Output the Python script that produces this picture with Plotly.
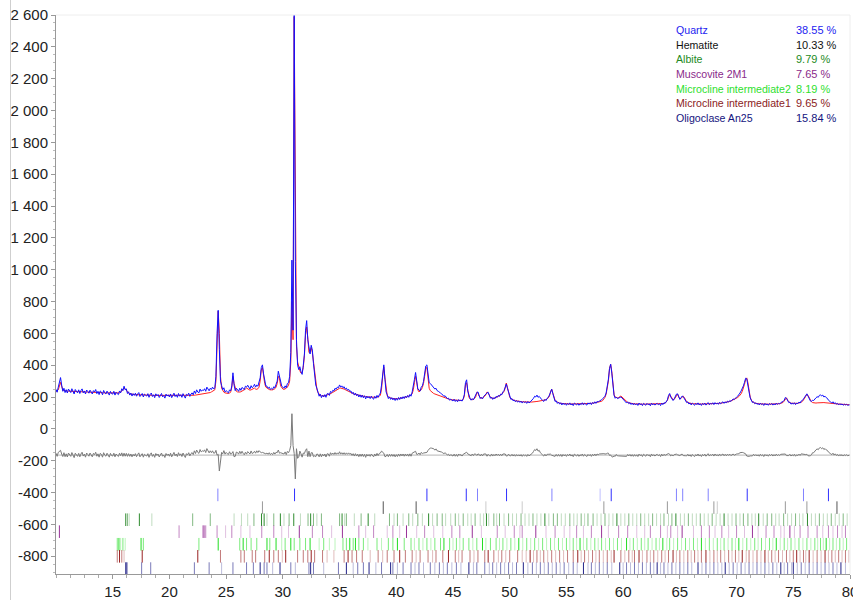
import numpy as np
import plotly.graph_objects as go

# ---------------- data ----------------
TWO_THETA_START = 10.0
TWO_THETA_STEP = 0.1
DIFF_OFFSET = -165

calc_counts = [
    236,238,245,265,292,268,245,240,238,238,
    237,237,236,236,236,235,235,235,234,234,
    234,233,233,233,232,232,232,231,231,231,
    230,230,230,229,229,229,228,228,228,227,
    227,227,226,226,226,225,225,225,224,224,
    224,224,223,223,223,224,226,230,238,248,
    256,252,240,230,224,220,218,217,216,216,
    215,215,215,214,214,214,213,213,213,213,
    212,212,212,211,211,211,210,210,210,210,
    209,209,209,209,208,208,208,208,208,207,
    207,207,207,207,207,207,207,207,207,207,
    207,207,208,208,208,208,209,209,209,210,
    210,211,211,212,213,214,215,215,216,217,
    218,219,220,221,223,225,228,232,235,238,
    245,300,600,740,600,330,255,238,230,226,
    223,222,222,224,232,260,330,285,248,236,
    232,230,231,233,236,240,245,250,256,252,
    246,243,245,248,252,256,250,248,252,262,
    300,370,385,330,285,262,255,250,247,245,
    244,245,248,252,262,285,330,318,270,255,
    250,248,250,255,262,275,300,420,800,560,
    2590,1200,520,420,385,365,350,355,385,460,
    590,640,570,480,480,510,480,420,340,285,
    248,228,216,210,207,206,206,208,210,212,
    214,217,220,224,229,234,239,243,248,252,
    255,256,255,253,250,246,242,238,234,230,
    227,224,221,218,216,214,212,210,208,206,
    205,204,203,202,201,200,199,198,198,197,
    197,197,198,199,201,204,212,250,330,390,
    320,240,210,200,196,193,191,190,189,189,
    189,189,190,191,192,193,195,197,199,201,
    203,205,208,212,220,245,290,330,295,245,
    232,236,245,260,285,330,380,385,300,255,
    240,232,226,222,219,216,213,210,207,204,
    201,198,195,193,191,189,187,185,183,182,
    181,180,179,178,178,177,177,178,180,185,
    205,275,290,230,200,188,184,183,185,190,
    200,230,225,205,195,192,193,197,205,215,
    232,225,208,198,193,191,192,194,197,200,
    204,208,212,218,225,235,255,288,260,220,
    200,190,185,182,179,177,175,174,173,172,
    171,170,170,169,169,168,168,168,168,168,
    168,169,170,171,172,173,174,175,176,177,
    178,180,183,187,193,205,232,250,225,195,
    180,172,167,164,162,160,159,158,157,157,
    156,156,156,156,156,156,156,156,156,156,
    156,156,156,156,157,157,157,158,158,159,
    159,160,160,161,162,163,164,165,166,168,
    170,173,178,186,198,218,250,300,380,405,
    360,270,215,200,196,195,197,203,206,200,
    192,184,176,170,166,163,161,160,159,158,
    157,157,156,156,156,155,155,155,155,155,
    155,155,155,155,155,155,155,155,155,155,
    155,155,155,155,156,157,159,162,168,178,
    200,216,205,190,183,185,195,212,218,200,
    188,192,200,205,196,180,170,165,162,160,
    159,158,158,157,157,157,156,156,156,156,
    156,156,156,156,156,156,157,157,157,158,
    158,158,159,159,160,160,161,162,163,164,
    165,166,168,170,172,175,178,181,185,189,
    193,197,203,210,220,235,255,280,310,320,
    290,240,200,180,170,165,162,160,159,158,
    157,157,156,156,156,156,155,155,155,155,
    155,155,155,155,155,156,156,157,158,160,
    162,166,175,190,195,180,168,163,161,160,
    159,159,159,160,161,162,164,167,172,180,
    192,205,215,210,195,180,170,165,163,162,
    162,163,164,165,166,166,166,165,164,163,
    162,161,160,160,159,158,158,157,157,156,
    156,155,155,154,154,153,153,152,152,151,
    151,
]

obs_counts = [
    248,230,262,290,322,275,236,255,228,246,
    225,250,241,228,252,233,219,247,238,226,
    245,222,240,251,226,238,219,244,235,224,
    243,228,219,240,232,247,221,236,215,238,
    232,214,241,226,219,237,228,212,235,221,
    218,236,212,230,221,215,238,226,252,240,
    268,245,251,222,233,212,225,206,221,210,
    224,205,219,228,203,216,222,200,218,211,
    206,221,198,215,225,203,214,196,220,208,
    216,197,212,222,201,209,193,218,206,214,
    200,219,196,211,224,203,214,198,222,205,
    215,198,221,206,193,217,210,224,204,219,
    226,214,238,222,245,231,226,250,236,244,
    241,252,236,262,248,239,255,247,262,250,
    258,330,600,745,500,300,272,246,258,232,
    240,231,226,245,238,270,352,275,240,255,
    248,236,255,242,260,251,247,268,262,274,
    262,250,271,258,266,280,262,275,268,290,
    320,385,402,345,298,270,268,255,262,248,
    255,248,265,258,280,300,362,330,285,268,
    262,255,270,258,285,290,330,480,1060,620,
    2600,1050,560,400,372,390,358,342,398,470,
    620,680,560,505,470,525,495,410,335,275,
    255,232,205,218,196,212,200,215,198,220,
    222,210,235,228,242,238,255,248,262,258,
    276,262,270,258,265,250,256,243,248,235,
    238,222,230,212,225,208,218,200,214,198,
    212,195,208,188,206,194,203,190,205,192,
    186,204,192,210,198,214,225,275,350,402,
    310,232,214,190,201,185,196,182,193,178,
    192,180,197,184,199,188,202,190,206,195,
    210,198,216,205,232,262,310,354,300,250,
    245,238,262,270,298,345,395,402,330,290,
    285,276,268,262,250,255,240,236,228,225,
    220,212,204,208,196,190,193,180,186,178,
    175,186,172,182,170,184,176,181,174,190,
    215,290,308,238,205,192,180,190,182,198,
    206,228,232,210,190,198,188,204,212,222,
    225,230,205,192,200,185,196,190,204,198,
    210,204,218,214,232,240,262,282,255,226,
    196,185,190,176,182,170,178,168,175,166,
    174,162,172,165,170,160,172,163,168,176,
    180,192,205,200,212,198,204,190,186,178,
    172,185,178,192,198,212,238,249,222,190,
    172,176,160,168,155,164,150,162,152,160,
    148,160,152,163,150,158,146,162,155,150,
    160,148,158,152,164,150,161,154,149,163,
    155,164,152,166,158,170,160,172,168,175,
    178,182,190,195,205,225,262,312,378,406,
    350,258,210,192,200,190,192,198,200,194,
    186,178,172,162,170,158,165,153,162,150,
    160,150,158,147,162,152,158,146,160,151,
    148,160,152,157,145,162,150,158,149,156,
    160,151,158,146,162,152,164,160,172,182,
    210,222,200,192,178,188,200,218,220,198,
    185,195,206,202,190,176,165,170,156,162,
    150,162,154,148,160,152,163,150,158,147,
    160,152,162,149,158,165,151,160,155,164,
    152,165,156,162,154,167,158,164,170,160,
    170,162,174,168,178,172,182,188,184,195,
    200,205,212,225,238,252,270,292,318,314,
    282,232,195,176,165,170,158,163,154,160,
    150,162,152,158,147,160,151,157,148,159,
    152,160,149,158,150,162,153,160,156,165,
    168,172,180,197,192,176,165,168,155,162,
    155,164,152,162,158,168,162,175,178,188,
    198,208,220,206,190,176,172,180,178,190,
    195,202,198,210,214,206,212,200,205,196,
    192,180,176,168,162,170,158,165,155,160,
    150,158,152,156,148,155,150,154,148,152,
    152,
]

# phase legend
phase_names = ["Quartz", "Hematite", "Albite", "Muscovite 2M1",
               "Microcline intermediate2", "Microcline intermediate1", "Oligoclase An25"]
phase_percent = ["38.55 %", "10.33 %", "9.79 %", "7.65 %", "8.19 %", "9.65 %", "15.84 %"]
phase_colors = ["#2424f0", "#111111", "#238a23", "#8a2a8a", "#2ee02e", "#8b1c1c", "#14147e"]
tick_colors = ["#3030ff", "#555555", "#2e8b2e", "#993399", "#22dd22", "#992222", "#222288"]
row_centers = [-415, -495, -571, -646, -725, -801, -878]

# reflection positions (2theta) per phase: strong, medium, weak
quartz_refl = [
    [31.03, 42.70, 46.17, 49.72, 58.95, 70.94, 78.10],
    [24.27, 47.16, 53.72, 64.70, 65.25, 67.50, 75.90],
    [57.97],
]
hematite_refl = [
    [38.85, 41.75, 78.85],
    [28.2, 58.3, 63.9, 68.0, 74.3, 76.2],
    [47.9, 51.1, 68.3],
]
albite_refl = [
    [16.15, 17.35, 28.12, 28.35, 29.78, 30.96, 32.45, 35.22, 37.52, 42.85, 47.95, 53.1,
     59.45, 64.65, 68.9, 71.95, 76.25],
    [16.3, 22.05, 23.6, 27.45, 29.2, 30.55, 32.22, 32.7, 33.4, 35.0, 35.6, 36.9, 39.4, 40.1,
     41.1, 41.9, 43.6, 44.05, 45.2, 45.9, 46.95, 48.6, 49.1, 49.9, 51.0, 52.05, 53.85, 54.2,
     55.3, 56.3, 56.9, 57.35, 58.4, 60.5, 61.55, 62.6, 63.6, 64.3, 65.75, 66.8, 67.85, 69.95,
     70.6, 71.0, 72.7, 73.1, 74.15, 75.2, 77.3, 78.35, 79.4],
    [16.45, 18.45, 25.7, 26.35, 26.9, 28.6, 30.1, 31.55, 33.0, 35.45, 36.3, 38.1, 39.8, 40.6,
     41.45, 42.3, 43.2, 44.35, 44.8, 45.5, 46.3, 46.6, 47.4, 47.7, 48.15, 48.85, 49.5, 50.25,
     50.6, 51.35, 51.7, 52.4, 52.75, 53.45, 54.55, 54.9, 55.65, 55.95, 56.6, 57.7, 58.05,
     58.75, 59.1, 59.8, 60.15, 60.85, 61.2, 61.9, 62.25, 62.95, 63.3, 64.0, 65.05, 65.4, 66.1,
     66.45, 67.15, 67.5, 68.2, 68.55, 69.25, 69.6, 70.3, 71.35, 71.65, 72.35, 73.45, 73.75,
     74.5, 74.85, 75.55, 75.85, 76.6, 76.95, 77.65, 78.0, 78.7, 79.05, 79.75],
]
muscovite_refl = [
    [10.3, 23.05, 31.45, 35.25, 40.9, 46.7, 52.3, 58.1, 65.2, 71.4, 74.7],
    [20.85, 22.95, 23.2, 24.2, 25.5, 28.14, 29.2, 32.6, 33.5, 36.7, 38.0, 39.7, 42.5, 44.9,
     45.6, 48.9, 50.4, 51.1, 54.0, 55.9, 57.2, 59.6, 60.4, 62.4, 63.3, 64.2, 66.9, 67.6, 68.7,
     70.0, 72.6, 73.3, 75.6, 76.3, 77.1, 78.1, 78.9, 79.6],
    [24.95, 26.3, 27.1, 29.9, 30.5, 34.3, 37.3, 39.2, 40.3, 41.8, 43.3, 44.1, 47.5, 49.6,
     50.9, 53.2, 54.8, 55.3, 56.5, 58.7, 61.2, 61.9, 63.9, 64.8, 66.2, 68.1, 69.3, 70.7, 71.9,
     73.9, 74.2, 75.1, 77.6, 78.5, 79.3],
]
microcline2_refl = [
    [15.55, 17.5, 24.3, 26.5, 28.6, 29.4, 30.7, 32.4, 35.9, 36.4, 40.1, 44.2, 47.6, 50.8,
     56.2, 60.3, 63.5, 66.9, 70.2, 73.5, 77.9],
    [15.4, 15.9, 17.7, 22.6, 26.2, 26.8, 27.2, 27.7, 28.85, 30.2, 31.0, 31.5, 32.0, 33.6,
     35.3, 35.6, 36.2, 36.7, 37.1, 38.3, 39.3, 39.7, 40.7, 41.3, 42.0, 42.7, 43.4, 43.9, 44.7,
     45.3, 45.9, 46.4, 47.1, 48.3, 48.8, 49.4, 50.1, 51.5, 52.2, 52.9, 53.6, 54.3, 55.0, 55.6,
     56.8, 57.5, 58.1, 58.8, 59.5, 60.9, 61.6, 62.2, 62.9, 64.1, 64.8, 65.5, 66.2, 67.6, 68.3,
     68.9, 69.6, 70.9, 71.6, 72.2, 72.9, 74.2, 74.8, 75.5, 76.2, 76.9, 77.4, 78.5, 79.1, 79.7],
    [15.7, 16.1, 29.9, 33.2, 34.1, 34.6, 37.5, 38.7, 41.6, 42.35, 43.05, 45.0, 45.6, 46.75,
     47.9, 49.1, 49.75, 50.45, 51.15, 51.85, 52.55, 53.25, 53.95, 54.65, 55.3, 55.9, 56.5,
     57.15, 57.8, 58.45, 59.15, 59.85, 60.6, 61.25, 61.9, 62.55, 63.2, 63.85, 64.45, 65.15,
     65.85, 66.55, 67.25, 67.95, 68.6, 69.25, 69.9, 70.55, 71.25, 71.9, 72.55, 73.2, 73.85,
     74.5, 75.15, 75.85, 76.55, 77.15, 77.65, 78.2, 78.8, 79.4],
]
microcline1_refl = [
    [15.6, 17.6, 22.5, 28.8, 30.25, 32.5, 35.75, 40.3, 44.6, 48.1, 51.8, 56.0, 59.2, 61.4,
     64.4, 67.3, 70.5, 72.5, 75.3, 76.4, 77.8],
    [15.4, 15.8, 24.5, 26.3, 26.6, 27.3, 27.6, 28.4, 29.2, 29.6, 31.3, 31.8, 32.2, 32.8,
     33.5, 35.4, 36.1, 36.5, 37.0, 38.4, 39.2, 39.8, 40.8, 41.4, 42.1, 42.8, 43.5, 44.1, 45.2,
     45.8, 46.5, 47.2, 47.8, 48.6, 49.3, 50.0, 50.7, 52.4, 53.0, 53.7, 54.4, 55.1, 55.6, 56.6,
     57.3, 57.9, 58.6, 59.8, 60.5, 61.0, 62.1, 62.7, 63.4, 64.0, 65.0, 65.7, 66.3, 66.9, 68.0,
     68.6, 69.3, 69.9, 71.1, 71.8, 73.1, 73.7, 74.4, 75.0, 75.9, 77.1, 78.4, 79.0, 79.6],
    [16.0, 29.95, 33.9, 34.5, 37.7, 38.8, 41.75, 43.2, 45.5, 46.85, 49.0, 49.65, 51.1, 51.45,
     52.1, 52.7, 53.35, 54.05, 54.75, 56.3, 56.95, 57.6, 58.25, 58.95, 60.15, 60.8, 61.7,
     62.4, 63.05, 63.7, 64.7, 65.35, 66.0, 66.6, 67.65, 68.3, 68.95, 69.6, 70.2, 70.85, 71.45,
     72.15, 72.8, 73.4, 74.05, 74.7, 75.6, 76.1, 76.75, 77.45, 78.1, 78.7, 79.3, 79.9],
]
oligoclase_refl = [
    [16.15, 16.25, 28.0, 29.75, 32.45, 35.6, 37.6, 39.5, 46.4, 51.2, 56.5, 59.7, 63.0, 66.6,
     69.0, 73.9, 75.0, 79.2],
    [17.55, 18.35, 22.2, 23.5, 25.6, 26.8, 27.4, 28.35, 28.6, 30.7, 32.3, 32.7, 34.9, 36.6,
     37.1, 38.7, 39.7, 40.6, 41.3, 42.0, 43.0, 43.8, 44.5, 45.3, 47.1, 47.8, 48.5, 49.2, 49.9,
     50.6, 52.0, 52.7, 53.4, 54.1, 54.8, 55.6, 57.2, 57.9, 58.6, 60.3, 61.0, 61.7, 62.4, 63.6,
     64.3, 65.0, 65.7, 67.3, 68.0, 69.7, 70.4, 71.1, 71.8, 72.5, 73.2, 74.5, 75.7, 76.4, 77.1,
     77.8, 78.5],
    [24.6, 29.1, 31.1, 33.6, 36.2, 38.2, 40.1, 41.65, 42.4, 43.4, 44.15, 44.9, 45.7, 46.8,
     48.2, 48.85, 49.55, 50.25, 51.6, 52.35, 53.05, 53.75, 54.45, 55.2, 55.95, 56.9, 57.55,
     58.25, 59.0, 60.0, 60.65, 61.35, 62.05, 62.7, 63.3, 63.95, 64.65, 65.35, 66.05, 66.95,
     67.65, 68.35, 68.7, 69.35, 70.05, 70.75, 71.45, 72.15, 72.85, 73.55, 74.2, 74.85, 75.35,
     76.05, 76.75, 77.45, 78.15, 78.85, 79.6],
]
phase_reflections = [quartz_refl, hematite_refl, albite_refl, muscovite_refl,
                     microcline2_refl, microcline1_refl, oligoclase_refl]
level_opacity = [1.0, 0.6, 0.3]

y_tick_values = [-800, -600, -400, -200, 0, 200, 400, 600, 800, 1000, 1200, 1400,
                 1600, 1800, 2000, 2200, 2400, 2600]
x_tick_values = [15, 20, 25, 30, 35, 40, 45, 50, 55, 60, 65, 70, 75, 80]

# ---------------- figure ----------------
obs = np.array(obs_counts, dtype=float)
calc = np.array(calc_counts, dtype=float)
two_theta = np.round(TWO_THETA_START + TWO_THETA_STEP * np.arange(len(obs)), 2)
diff = obs - calc + DIFF_OFFSET

fig = go.Figure()

# zero line of difference curve
fig.add_trace(go.Scatter(x=[two_theta[0], two_theta[-1]], y=[DIFF_OFFSET, DIFF_OFFSET],
                         mode="lines", line=dict(color="#b5b5b5", width=1), hoverinfo="skip"))
fig.add_trace(go.Scatter(x=two_theta, y=diff, mode="lines",
                         line=dict(color="#7a7a7a", width=1)))
fig.add_trace(go.Scatter(x=two_theta, y=calc, mode="lines",
                         line=dict(color="#ff2020", width=1)))
fig.add_trace(go.Scatter(x=two_theta, y=obs, mode="lines",
                         line=dict(color="#1010ff", width=1)))

for refl, color, yc in zip(phase_reflections, tick_colors, row_centers):
    for positions, op in zip(refl, level_opacity):
        fig.add_trace(go.Scatter(
            x=positions, y=[yc] * len(positions), mode="markers",
            marker=dict(symbol="line-ns-open", size=9, color=color, opacity=op,
                        line=dict(width=1, color=color)),
            hoverinfo="skip"))

ann = []
row_px = [30, 44.7, 59.4, 74.1, 88.8, 103.5, 118.2]
for name, pct, col, py in zip(phase_names, phase_percent, phase_colors, row_px):
    yp = (574 - py) / 559
    ann.append(dict(x=(674 - 56) / 794, y=yp, xref="paper", yref="paper", text=name,
                    showarrow=False, xanchor="left", yanchor="middle",
                    font=dict(size=10.6, color=col)))
    ann.append(dict(x=(794 - 56) / 794, y=yp, xref="paper", yref="paper", text=pct,
                    showarrow=False, xanchor="left", yanchor="middle",
                    font=dict(size=11, color=col)))

y_tick_text = [f"{v:,}".replace(",", " ") for v in y_tick_values]

fig.update_layout(
    width=853, height=600,
    margin=dict(l=56, r=3, t=15, b=26, autoexpand=False),
    plot_bgcolor="white", paper_bgcolor="white",
    showlegend=False,
    font=dict(family="Liberation Sans, Arial, sans-serif", color="#222222"),
    annotations=ann,
    shapes=[
        dict(type="line", xref="paper", yref="paper", x0=0, x1=1, y0=1, y1=1,
             line=dict(color="#eeeeee", width=1)),
        dict(type="line", xref="paper", yref="paper", x0=1, x1=1, y0=0, y1=1,
             line=dict(color="#eeeeee", width=1)),
        dict(type="line", xref="paper", yref="paper", x0=(10.5 - 56) / 794, x1=(10.5 - 56) / 794,
             y0=-0.06, y1=1.04, line=dict(color="#cfcfcf", width=1)),
    ],
    xaxis=dict(range=[10, 80], tickvals=x_tick_values, ticks="outside", ticklen=4,
               tickcolor="#999999", showline=True, linecolor="#999999", linewidth=1,
               showgrid=False, zeroline=False, tickfont=dict(size=15, color="#222222"),
               automargin=False, ticklabeloverflow="allow",
               minor=dict(tick0=10, dtick=1.25, ticks="outside", ticklen=3,
                          tickcolor="#aaaaaa", showgrid=False)),
    yaxis=dict(range=[-912, 2600], tickvals=y_tick_values, ticktext=y_tick_text,
               ticks="outside", ticklen=4, tickcolor="#999999", showline=True,
               linecolor="#999999", linewidth=1, showgrid=False, zeroline=False,
               tickfont=dict(size=15, color="#222222"), automargin=False,
               ticklabeloverflow="allow",
               minor=dict(tick0=0, dtick=50, ticks="outside", ticklen=2,
                          tickcolor="#bbbbbb", showgrid=False)),
)

fig.write_html("out.html", config={"displayModeBar": False},
               post_script="document.body.style.margin='0';document.body.style.padding='0';")
